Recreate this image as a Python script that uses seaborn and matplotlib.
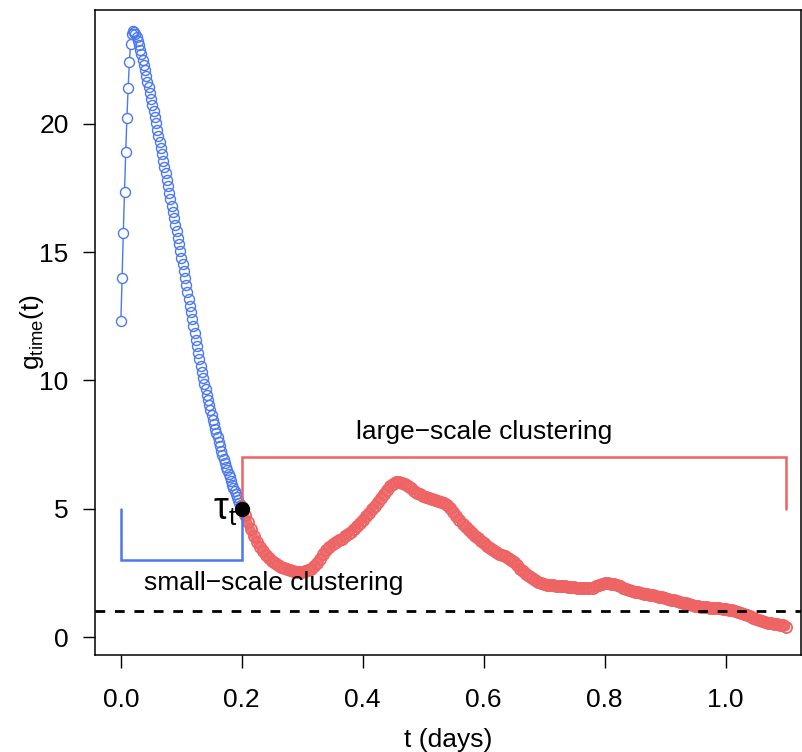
import numpy as np
import pandas as pd
import matplotlib
matplotlib.use("Agg")
import matplotlib.pyplot as plt
import seaborn as sns

# ---- data ----
blue_g = [12.30, 14.00, 15.75, 17.35, 18.90, 20.25, 21.40, 22.40, 23.10, 23.50,
          23.62, 23.60, 23.52, 23.40, 23.25, 23.08, 22.90, 22.71, 22.51, 22.30,
          22.09, 21.87, 21.65, 21.43, 21.20, 20.97, 20.74, 20.50, 20.26, 20.02,
          19.78, 19.54, 19.30, 19.06, 18.82, 18.57, 18.32, 18.07, 17.82, 17.57,
          17.32, 17.07, 16.82, 16.57, 16.32, 16.07, 15.82, 15.57, 15.31, 15.05,
          14.79, 14.53, 14.27, 14.00, 13.73, 13.46, 13.19, 12.92, 12.65, 12.38,
          12.11, 11.85, 11.59, 11.33, 11.07, 10.82, 10.57, 10.33, 10.10, 9.87,
          9.65, 9.44, 9.23, 9.03, 8.84, 8.65, 8.47, 8.29, 8.12, 7.95,
          7.78, 7.61, 7.44, 7.27, 7.10, 6.94, 6.79, 6.64, 6.50, 6.36,
          6.22, 6.08, 5.94, 5.81, 5.68, 5.56, 5.44, 5.33, 5.23, 5.14,
          5.05]
blue_t = np.linspace(0.0, 0.2, len(blue_g))

red_g = [5.05, 4.75, 4.47, 4.20, 3.95, 3.72, 3.52, 3.35, 3.20, 3.08,
         2.97, 2.88, 2.80, 2.74, 2.69, 2.64, 2.60, 2.57, 2.55, 2.54,
         2.54, 2.56, 2.60, 2.66, 2.76, 2.90, 3.06, 3.22, 3.38, 3.52,
         3.62, 3.70, 3.77, 3.84, 3.92, 4.01, 4.10, 4.20, 4.31, 4.43,
         4.56, 4.70, 4.84, 4.98, 5.12, 5.27, 5.43, 5.59, 5.74, 5.87,
         5.97, 6.03, 6.05, 6.02, 5.95, 5.87, 5.79, 5.71, 5.63, 5.56,
         5.50, 5.46, 5.42, 5.38, 5.34, 5.30, 5.26, 5.21, 5.13, 5.02,
         4.88, 4.72, 4.56, 4.42, 4.29, 4.17, 4.06, 3.95, 3.85, 3.75,
         3.65, 3.55, 3.46, 3.38, 3.31, 3.25, 3.20, 3.15, 3.09, 3.01,
         2.91, 2.79, 2.67, 2.56, 2.46, 2.37, 2.29, 2.22, 2.16, 2.11,
         2.07, 2.04, 2.02, 2.01, 2.00, 1.99, 1.98, 1.97, 1.96, 1.95,
         1.94, 1.93, 1.92, 1.91, 1.90, 1.90, 1.92, 1.97, 2.03, 2.07,
         2.09, 2.09, 2.08, 2.05, 2.01, 1.97, 1.93, 1.89, 1.85, 1.81,
         1.77, 1.74, 1.71, 1.68, 1.66, 1.64, 1.62, 1.60, 1.58, 1.55,
         1.52, 1.49, 1.46, 1.43, 1.40, 1.37, 1.34, 1.31, 1.28, 1.25,
         1.22, 1.20, 1.18, 1.17, 1.16, 1.15, 1.14, 1.13, 1.12, 1.11,
         1.09, 1.07, 1.05, 1.02, 0.99, 0.95, 0.91, 0.86, 0.81, 0.76,
         0.71, 0.66, 0.62, 0.58, 0.55, 0.53, 0.51, 0.50, 0.48, 0.45,
         0.40]
red_t = np.linspace(0.2, 1.1, len(red_g))

tau_t, tau_g = 0.2, 5.0
ref_level = 1.0
small_bracket_t = [0.0, 0.0, 0.2, 0.2]
small_bracket_g = [5.0, 3.0, 3.0, 5.0]
large_bracket_t = [0.2, 0.2, 1.1, 1.1]
large_bracket_g = [5.0, 7.0, 7.0, 5.0]
x_ticks = [0.0, 0.2, 0.4, 0.6, 0.8, 1.0]
y_ticks = [0, 5, 10, 15, 20]

blue_df = pd.DataFrame({"t": blue_t, "g": blue_g})
red_df = pd.DataFrame({"t": red_t, "g": red_g})

# ---- style ----
sns.set_style("ticks")
plt.rcParams["font.family"] = ["Liberation Sans", "DejaVu Sans"]
plt.rcParams["mathtext.fontset"] = "custom"
plt.rcParams["mathtext.rm"] = "Liberation Sans"
plt.rcParams["mathtext.it"] = "Liberation Sans:italic"
plt.rcParams["text.color"] = "black"
plt.rcParams["axes.labelcolor"] = "black"
plt.rcParams["xtick.color"] = "black"
plt.rcParams["ytick.color"] = "black"

BLUE = "#4a78f0"
RED = "#ee6363"

fig = plt.figure(figsize=(8.03, 7.52), dpi=100)
ax = fig.add_axes([95 / 803, (752 - 655) / 752, (801 - 95) / 803, (655 - 10) / 752])

# blue: points + connecting line with gaps (R type="b")
sns.lineplot(data=blue_df, x="t", y="g", ax=ax, color=BLUE, lw=1.0,
             sort=False, estimator=None, zorder=1)
sns.lineplot(data=blue_df, x="t", y="g", ax=ax, color="white", lw=0,
             marker="o", markersize=7.8, markerfacecolor="white",
             markeredgecolor="none", sort=False, estimator=None, zorder=2)
sns.lineplot(data=blue_df, x="t", y="g", ax=ax, color=BLUE, lw=0,
             marker="o", markersize=7.2, markerfacecolor="none",
             markeredgecolor=BLUE, markeredgewidth=1.0,
             sort=False, estimator=None, zorder=3)

# red: dense hollow points forming a thick band
sns.lineplot(data=red_df, x="t", y="g", ax=ax, color=RED, lw=6.2,
             sort=False, estimator=None, zorder=3, alpha=0.9)
sns.lineplot(data=red_df, x="t", y="g", ax=ax, color=RED, lw=0,
             marker="o", markersize=8.0, markerfacecolor="none",
             markeredgecolor=RED, markeredgewidth=1.3,
             sort=False, estimator=None, zorder=3)

# brackets
ax.plot(small_bracket_t, small_bracket_g, color=BLUE, lw=1.8, zorder=4,
        solid_joinstyle="miter")
ax.plot(large_bracket_t, large_bracket_g, color=RED, lw=1.8, zorder=4,
        solid_joinstyle="miter")

# reference dashed line
ax.axhline(ref_level, color="black", lw=2.0, ls=(0, (3.5, 3.5)), zorder=5)

# tau point
ax.plot([tau_t], [tau_g], "o", color="black", markersize=10, zorder=6)
ax.annotate(r"$\mathrm{\tau}_{\mathrm{t}}$", xy=(tau_t, tau_g), xytext=(-3, -1),
            textcoords="offset points", ha="right", va="center",
            fontsize=27, color="black", zorder=6)

ax.text(0.6, 8.0, "large\u2212scale clustering", ha="center", va="center",
        fontsize=19, color="black")
ax.text(0.253, 2.1, "small\u2212scale clustering", ha="center", va="center",
        fontsize=19, color="black")

ax.set_xlim(-0.0428, 1.1248)
ax.set_ylim(-0.70, 24.44)
ax.set_xticks(x_ticks)
ax.set_xticklabels([f"{v:.1f}" for v in x_ticks])
ax.set_yticks(y_ticks)
ax.set_yticklabels([str(v) for v in y_ticks])
ax.tick_params(direction="out", length=9, width=1.0, labelsize=19,
               colors="black")
ax.tick_params(axis="x", pad=15)
ax.tick_params(axis="y", pad=10)
for s in ax.spines.values():
    s.set_visible(True)
    s.set_linewidth(1.1)
    s.set_color("black")

ax.set_xlabel("t (days)", fontsize=19, labelpad=11, color="black")
ax.set_ylabel(r"g$_{\mathrm{time}}$(t)", fontsize=19, labelpad=-5, color="black")

fig.savefig("out.png", dpi=100)
